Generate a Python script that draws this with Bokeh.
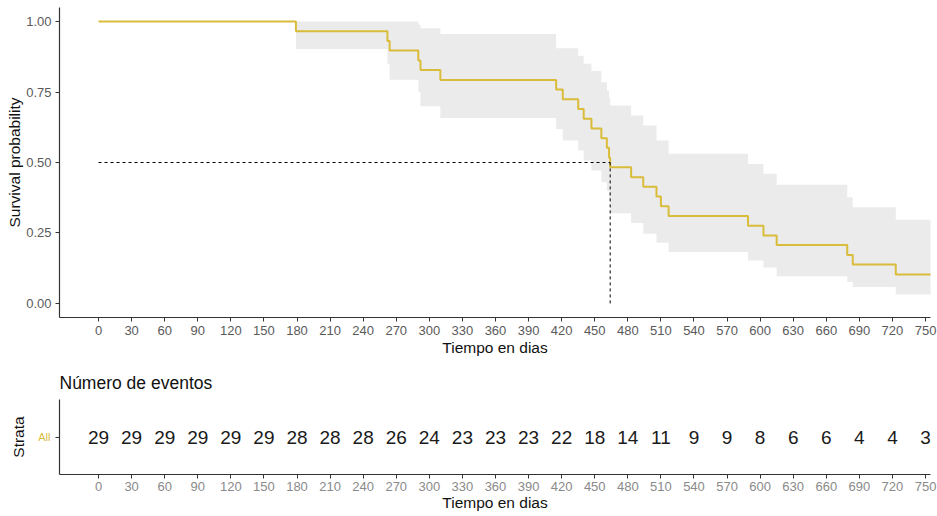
from bokeh.plotting import figure
from bokeh.layouts import column
from bokeh.models import Range1d, FixedTicker, NumeralTickFormatter
from bokeh.core.properties import value
from bokeh.embed import file_html
from bokeh.resources import INLINE

# ---- data ----
times = [0, 179, 262, 264, 290, 292, 310, 415, 421, 435, 440, 447, 456, 461, 463, 464,
         483, 494, 506, 510, 517, 589, 603, 615, 679, 684, 723, 755]
surv = [1.0, 0.966, 0.931, 0.897, 0.862, 0.828, 0.793, 0.759, 0.724, 0.690, 0.655, 0.621,
        0.586, 0.552, 0.517, 0.483, 0.448, 0.414, 0.379, 0.345, 0.310, 0.276, 0.241, 0.207,
        0.172, 0.138, 0.103, 0.103]
upper = [1.0, 1.0, 1.0, 1.0, 0.99, 0.976, 0.956, 0.905, 0.905, 0.879, 0.850, 0.825,
         0.785, 0.755, 0.730, 0.702, 0.667, 0.631, 0.578, 0.578, 0.531, 0.495, 0.460, 0.421,
         0.377, 0.341, 0.297, 0.297]
lower = [1.0, 0.903, 0.850, 0.794, 0.750, 0.700, 0.658, 0.619, 0.578, 0.543, 0.507, 0.472,
         0.430, 0.400, 0.370, 0.320, 0.285, 0.247, 0.215, 0.215, 0.182, 0.152, 0.127, 0.096,
         0.076, 0.058, 0.032, 0.032]
median_time = 464
median_surv = 0.5

table_times = list(range(0, 751, 30))
at_risk = [29, 29, 29, 29, 29, 29, 28, 28, 28, 26, 24, 23, 23, 23, 22, 18, 14, 11, 9, 9,
           8, 6, 6, 4, 4, 3]
strata = "All"

y_ticks = [0.0, 0.25, 0.5, 0.75, 1.0]

# ---- styles ----
FONT = "Liberation Sans"
GOLD = "#D9BC3A"
BAND = "#EBEBEB"
AXIS = "#333333"


def style_axes(p, tick_color):
    for ax in (p.xaxis, p.yaxis):
        ax.axis_line_color = AXIS
        ax.axis_line_width = 1.2
        ax.major_tick_line_color = AXIS
        ax.major_tick_out = 4
        ax.major_tick_in = 0
        ax.minor_tick_line_color = None
        ax.major_label_text_font = FONT
        ax.major_label_text_font_size = "13px"
        ax.major_label_text_color = tick_color
        ax.axis_label_text_font = FONT
        ax.axis_label_text_font_size = "15.5px"
        ax.axis_label_text_font_style = "normal"
        ax.axis_label_text_color = "#111111"
    p.xgrid.grid_line_color = None
    p.ygrid.grid_line_color = None
    p.outline_line_color = None
    p.background_fill_color = "white"
    p.border_fill_color = "white"


W = 937
x_range = Range1d(-35.4, 754.5)

p1 = figure(width=W, height=358, output_backend="svg", toolbar_location=None,
            x_range=x_range, y_range=Range1d(-0.05, 1.05),
            min_border_left=59, min_border_right=7, min_border_top=7, min_border_bottom=40)
style_axes(p1, "#5a5a5a")
p1.varea_step(x=times, y1=lower, y2=upper, step_mode="after", fill_color=BAND, fill_alpha=1.0)
p1.step(x=times, y=surv, mode="after", line_color=GOLD, line_width=2)
p1.line(x=[0, median_time], y=[median_surv, median_surv], line_color="black",
        line_width=1, line_dash="3 3")
p1.line(x=[median_time, median_time], y=[0, median_surv], line_color="black",
        line_width=1, line_dash="3 3")
p1.xaxis.ticker = FixedTicker(ticks=table_times)
p1.yaxis.ticker = FixedTicker(ticks=y_ticks)
p1.yaxis.formatter = NumeralTickFormatter(format="0.00")
p1.xaxis.axis_label = "Tiempo en dias"
p1.yaxis.axis_label = "Survival probability"
p1.yaxis.axis_label_standoff = 0
p1.xaxis.axis_label_standoff = 1
p1.xaxis.major_label_standoff = 4
p1.yaxis.major_label_standoff = 4

p2 = figure(width=W, height=158, output_backend="svg", toolbar_location=None,
            x_range=x_range, y_range=Range1d(-1, 1),
            min_border_left=59, min_border_right=7, min_border_top=41, min_border_bottom=42)
style_axes(p2, "#8a8a8a")
p2.text(x=table_times, y=[0] * len(table_times), text=[str(v) for v in at_risk],
        text_align="center", text_baseline="middle", text_font=value(FONT),
        text_font_size="19px", text_color="#1a1a1a")
p2.xaxis.ticker = FixedTicker(ticks=table_times)
p2.yaxis.ticker = FixedTicker(ticks=[0])
p2.yaxis.major_label_overrides = {0: strata}
p2.yaxis.major_label_text_color = GOLD
p2.yaxis.major_label_text_font_size = "11px"
p2.xaxis.axis_label = "Tiempo en dias"
p2.yaxis.axis_label = "Strata"
p2.yaxis.axis_label_standoff = 8
p2.xaxis.axis_label_standoff = 0
p2.xaxis.major_label_standoff = 3
p2.title.text = "Número de eventos"
p2.title.text_font = FONT
p2.title.text_font_size = "17.5px"
p2.title.text_font_style = "normal"
p2.title.text_color = "#111111"
p2.title.align = "left"
p2.title.standoff = 13

layout = column(p1, p2, spacing=0)
open("out.html", "w").write(file_html(layout, INLINE))
